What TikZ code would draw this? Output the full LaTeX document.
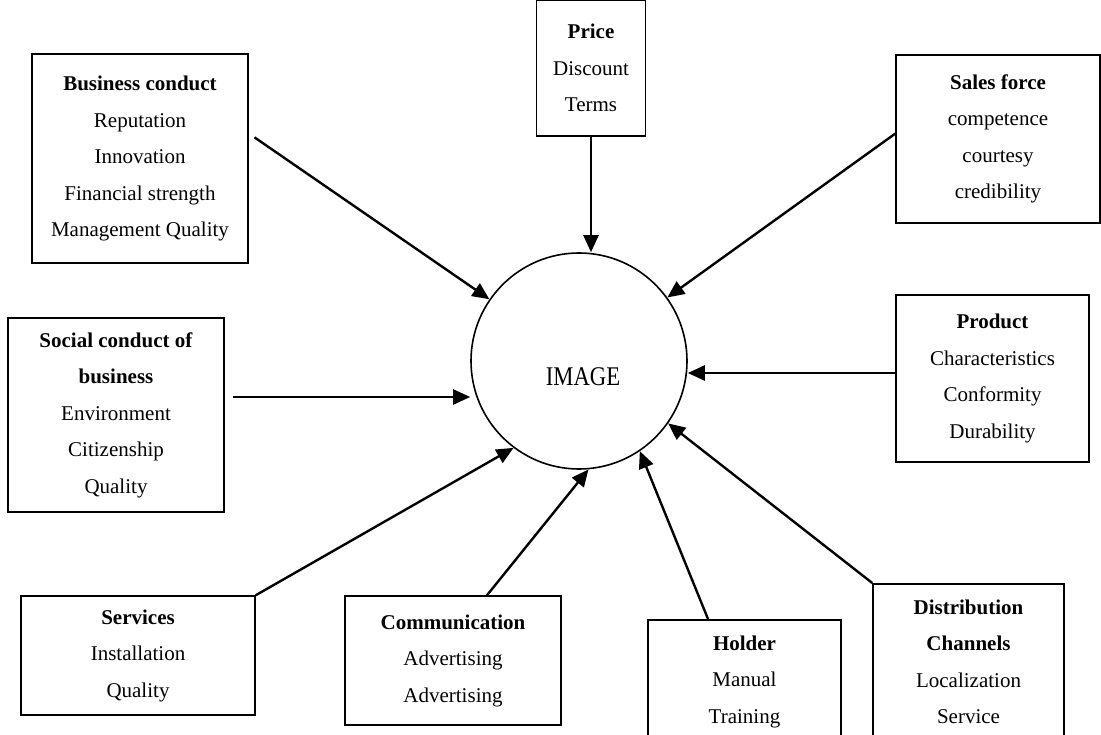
\documentclass[tikz,border=0pt]{standalone}
\usepackage{fontspec}
\setmainfont{Liberation Serif}
\usetikzlibrary{arrows.meta}

\tikzset{
  caja/.style={draw, line width=1.5pt, align=center, inner sep=0pt,
    font=\fontsize{21}{36.5}\selectfont},
  flecha/.style={line width=2.4pt, -{Triangle[length=17pt,width=15pt]}},
}

\begin{document}
\begin{tikzpicture}[x=1pt,y=-1pt]
    \clip (0,0) rectangle (1101,735);

    % Centro
    \node[draw, circle, line width=1.6pt, minimum size=216pt, inner sep=0pt] (img) at (579,361) {};
    \node (imgtext) at (583,377) {\fontsize{27}{27}\selectfont\scalebox{0.84}[1]{IMAGE}};

    % Cajas de arriba
    \node[caja, minimum width=216pt, minimum height=209pt] (bus) at (140,158.5)
        {\textbf{Business conduct}\\Reputation\\Innovation\\Financial strength\\Management Quality};
    \node[caja, minimum width=109pt, minimum height=136pt] (price) at (591,68)
        {\textbf{Price}\\Discount\\Terms};
    \node[caja, minimum width=204pt, minimum height=168pt] (sales) at (998,139)
        {\textbf{Sales force}\\competence\\courtesy\\credibility};

    % Cajas del medio
    \node[caja, minimum width=216pt, minimum height=194pt] (social) at (116,415)
        {\textbf{Social conduct of}\\\textbf{business}\\Environment\\Citizenship\\Quality};
    \node[caja, minimum width=193pt, minimum height=167pt] (prod) at (992.5,378.5)
        {\textbf{Product}\\Characteristics\\Conformity\\Durability};

    % Cajas de abajo
    \node[caja, minimum width=234pt, minimum height=119pt] (serv) at (138,655.5)
        {\textbf{Services}\\Installation\\Quality};
    \node[caja, minimum width=216pt, minimum height=129pt] (comm) at (453,660.5)
        {\textbf{Communication}\\Advertising\\Advertising};
    \node[caja, minimum width=193pt, inner ysep=16pt, anchor=north] (holder) at (744.5,619)
        {\textbf{Holder}\\Manual\\Training};
    \node[caja, minimum width=191pt, inner ysep=16pt, anchor=north] (dist) at (968.5,583)
        {\textbf{Distribution}\\\textbf{Channels}\\Localization\\Service};

    % Flechas
    \draw[flecha, shorten <=7pt] (bus.13) -- (img);
    \draw[flecha] (price.south) -- (price.south |- img.north);
    \draw[flecha] (sales.177) -- (img);
    \draw[flecha, shorten <=8pt] ([yshift=18pt]social.east) -- ([yshift=18pt]social.east -| img.west);
    \draw[flecha] ([yshift=5.5pt]prod.west) -- ([yshift=5.5pt]prod.west -| img.east);
    \draw[flecha] (serv.north east) -- (img.233);
    \draw[flecha] ([xshift=34pt]comm.north) -- (img.275);
    \draw[flecha] ([xshift=-36.5pt]holder.north) -- (img.304);
    \draw[flecha] (dist.north west) -- (img.325);
\end{tikzpicture}
\end{document}
